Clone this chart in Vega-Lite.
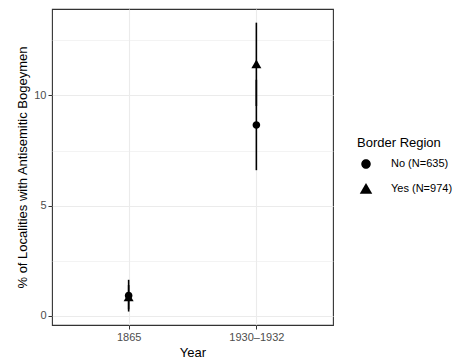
{
  "$schema": "https://vega.github.io/schema/vega-lite/v6.json",
  "width": 281,
  "height": 316,
  "autosize": {"type": "none"},
  "padding": {"left": 52, "top": 9, "right": 121, "bottom": 38},
  "config": {
    "font": "Liberation Sans",
    "view": {"stroke": "#333333", "strokeWidth": 1.1},
    "axis": {
      "gridColor": "#ebebeb",
      "gridWidth": 1.1,
      "domain": false,
      "tickColor": "#333333",
      "tickSize": 4,
      "labelColor": "#4d4d4d",
      "labelFontSize": 11,
      "labelPadding": 2,
      "titleFontSize": 13,
      "titleFontWeight": "normal",
      "titleColor": "#000000",
      "titlePadding": 4
    },
    "legend": {
      "titleFontSize": 13,
      "titleFontWeight": "normal",
      "titleColor": "#000000",
      "labelFontSize": 11,
      "labelColor": "#000000",
      "rowPadding": 8,
      "titlePadding": 8
    }
  },
  "data": {
    "values": [
      {"year": "1865", "group": "No (N=635)", "pct": 0.92, "lo": 0.2, "hi": 1.64},
      {"year": "1865", "group": "Yes (N=974)", "pct": 0.84, "lo": 0.3, "hi": 1.4},
      {"year": "1930–1932", "group": "No (N=635)", "pct": 8.66, "lo": 6.61, "hi": 10.71},
      {"year": "1930–1932", "group": "Yes (N=974)", "pct": 11.41, "lo": 9.52, "hi": 13.3}
    ]
  },
  "layer": [
    {
      "mark": {"type": "rule", "strokeWidth": 1.6, "color": "black"},
      "encoding": {
        "x": {
          "field": "year", "type": "ordinal",
          "scale": {"type": "point", "padding": 0.6},
          "axis": {"title": "Year", "labelAngle": 0, "grid": true}
        },
        "y": {
          "field": "lo", "type": "quantitative",
          "scale": {"domain": [-0.41, 13.92], "nice": false, "zero": false},
          "axis": {
            "title": "% of Localities with Antisemitic Bogeymen",
            "values": [0, 2.5, 5, 7.5, 10, 12.5],
            "labelExpr": "datum.value % 5 === 0 ? datum.label : ''",
            "tickOpacity": {"condition": {"test": "datum.value % 5 !== 0", "value": 0}, "value": 1},
            "gridWidth": {"condition": {"test": "datum.value % 5 !== 0", "value": 0.6}, "value": 1.1}
          }
        },
        "y2": {"field": "hi"}
      }
    },
    {
      "mark": {"type": "point", "filled": true, "opacity": 1, "color": "black", "size": 64},
      "encoding": {
        "x": {"field": "year", "type": "ordinal"},
        "y": {"field": "pct", "type": "quantitative"},
        "shape": {
          "field": "group", "type": "nominal",
          "scale": {"range": [
            "M-0.95,0A0.95,0.95,0,1,1,0.95,0A0.95,0.95,0,1,1,-0.95,0Z",
            "M0,-1.2L1.25,0.95L-1.25,0.95Z"
          ]},
          "legend": {
            "title": "Border Region", "orient": "none", "legendX": 305, "legendY": 128,
            "symbolOffset": 3, "labelOffset": 19
          }
        }
      }
    }
  ]
}
